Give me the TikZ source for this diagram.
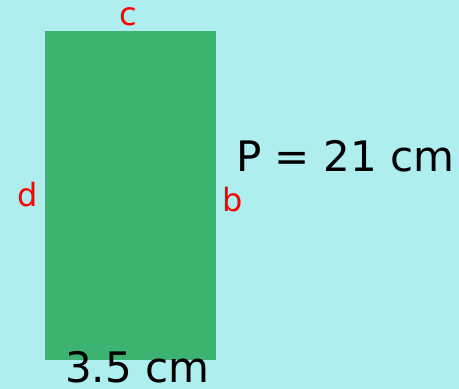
\documentclass[tikz,border=0pt]{standalone}
\usepackage{fontspec}
\setmainfont{DejaVu Sans}
\usepackage{xcolor}
\definecolor{paleBg}{HTML}{AFEEEE}
\definecolor{sideGreen}{HTML}{3CB371}
\usetikzlibrary{calc}

\begin{document}
\begin{tikzpicture}[x=1pt, y=1pt,
    sidelabel/.style={text=red, inner sep=0pt, font=\fontsize{32}{36}\selectfont},
    bigtext/.style={text=black, inner sep=0pt, font=\fontsize{42}{46}\selectfont}]
  \fill[paleBg] (0,0) rectangle (459,389);
  \useasboundingbox (0,0) rectangle (459,389);
  % the rectangle
  \fill[sideGreen] (45,29) rectangle (216,358);
  \node[sidelabel, anchor=base] (sideC) at (128,363) {c};
  \node[sidelabel, anchor=base] (sideD) at (27.5,182) {d};
  \node[sidelabel, anchor=base] (sideB) at (233,177) {b};
  % perimeter and width
  \node[bigtext, anchor=base west] (perim) at (236,217) {P = 21 cm};
  \node[bigtext, anchor=base west] (width) at (65,6) {3.5 cm};
\end{tikzpicture}
\end{document}
